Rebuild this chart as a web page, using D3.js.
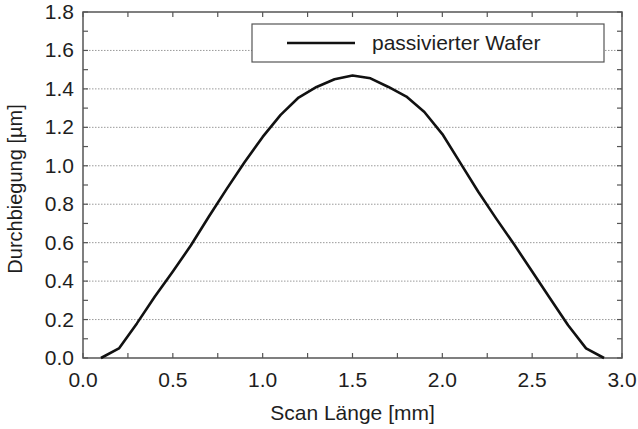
<!DOCTYPE html>
<html>
<head>
<meta charset="utf-8">
<script src="https://cdn.jsdelivr.net/npm/d3@7"></script>
<style>
  body { margin: 0; background: #fff; }
  text { font-family: "Liberation Sans", Arial, sans-serif; fill: #1e1e1e; }
</style>
</head>
<body>
<div id="chart"></div>
<script>
// scan position [mm] and deflection [µm]
const scanPos = [0.1, 0.2, 0.3, 0.4, 0.5, 0.6, 0.7, 0.8, 0.9, 1.0, 1.1, 1.2, 1.3, 1.4, 1.5,
                 1.6, 1.7, 1.8, 1.9, 2.0, 2.1, 2.2, 2.3, 2.4, 2.5, 2.6, 2.7, 2.8, 2.9];
const deflection = [0.0, 0.05, 0.18, 0.32, 0.45, 0.585, 0.735, 0.88, 1.02, 1.15, 1.265, 1.355, 1.41, 1.45, 1.47,
                    1.455, 1.41, 1.36, 1.28, 1.165, 1.015, 0.865, 0.725, 0.59, 0.45, 0.31, 0.17, 0.05, 0.0];
const xTicks = [0.0, 0.5, 1.0, 1.5, 2.0, 2.5, 3.0];
const yTicks = [0.0, 0.2, 0.4, 0.6, 0.8, 1.0, 1.2, 1.4, 1.6, 1.8];
const seriesName = "passivierter Wafer";

const width = 638, height = 429;
const margin = {top: 12, right: 16, bottom: 71, left: 83};
const w = width - margin.left - margin.right;
const h = height - margin.top - margin.bottom;

const svg = d3.select("#chart").append("svg")
    .attr("width", width)
    .attr("height", height);

const g = svg.append("g")
    .attr("transform", `translate(${margin.left}, ${margin.top})`);

const x = d3.scaleLinear().domain([0, 3]).range([0, w]);
const y = d3.scaleLinear().domain([0, 1.8]).range([h, 0]);

// dotted grid lines
g.selectAll(".grid")
  .data(yTicks.filter(d => d > 0 && d < 1.8))
  .enter()
  .append("line")
    .attr("x1", 0).attr("x2", w)
    .attr("y1", d => y(d)).attr("y2", d => y(d))
    .attr("stroke", "#9a9a9a")
    .attr("stroke-width", 1)
    .attr("stroke-dasharray", "1.5,1.5");

// minor + major ticks, pointing inwards on all four sides
const xMinor = d3.range(0, 3.001, 0.25);
const yMinor = d3.range(0, 1.801, 0.1);

const tickLen = 5;
const tickStyle = sel => sel.attr("stroke", "#555").attr("stroke-width", 1.2);

g.selectAll(".xtb").data(xMinor).enter().append("line")
    .attr("x1", d => x(d)).attr("x2", d => x(d))
    .attr("y1", h).attr("y2", h - tickLen).call(tickStyle);
g.selectAll(".xtt").data(xMinor).enter().append("line")
    .attr("x1", d => x(d)).attr("x2", d => x(d))
    .attr("y1", 0).attr("y2", tickLen).call(tickStyle);
g.selectAll(".ytl").data(yMinor).enter().append("line")
    .attr("x1", 0).attr("x2", tickLen)
    .attr("y1", d => y(d)).attr("y2", d => y(d)).call(tickStyle);
g.selectAll(".ytr").data(yMinor).enter().append("line")
    .attr("x1", w).attr("x2", w - tickLen)
    .attr("y1", d => y(d)).attr("y2", d => y(d)).call(tickStyle);

// frame
g.append("rect")
    .attr("width", w).attr("height", h)
    .attr("fill", "none")
    .attr("stroke", "#555")
    .attr("stroke-width", 1.5);

// tick labels
g.selectAll(".xl").data(xTicks).enter().append("text")
    .attr("x", d => x(d))
    .attr("y", h + 29)
    .attr("text-anchor", "middle")
    .style("font-size", "21px")
    .text(d => d.toFixed(1));

g.selectAll(".yl").data(yTicks).enter().append("text")
    .attr("x", -9)
    .attr("y", d => y(d) + 7)
    .attr("text-anchor", "end")
    .style("font-size", "21px")
    .text(d => d.toFixed(1));

// axis titles
g.append("text")
    .attr("x", w / 2)
    .attr("y", h + 62)
    .attr("text-anchor", "middle")
    .style("font-size", "21px")
    .text("Scan Länge [mm]");

g.append("text")
    .attr("transform", `translate(${-61}, ${h / 2 + 4}) rotate(-90)`)
    .attr("text-anchor", "middle")
    .style("font-size", "20px")
    .text("Durchbiegung [µm]");

// curve
const line = d3.line()
    .x((d, i) => x(scanPos[i]))
    .y(d => y(d));

g.append("path")
    .datum(deflection)
    .attr("d", line)
    .attr("fill", "none")
    .attr("stroke", "#111")
    .attr("stroke-width", 2.6)
    .attr("stroke-linejoin", "round");

// legend
const legend = g.append("g").attr("transform", `translate(${252 - margin.left}, ${24 - margin.top})`);
legend.append("rect")
    .attr("width", 352).attr("height", 38)
    .attr("fill", "#fff")
    .attr("stroke", "#555")
    .attr("stroke-width", 1.2);
legend.append("line")
    .attr("x1", 35).attr("x2", 103)
    .attr("y1", 19).attr("y2", 19)
    .attr("stroke", "#111")
    .attr("stroke-width", 2.6);
legend.append("text")
    .attr("x", 120)
    .attr("y", 26)
    .style("font-size", "21px")
    .text(seriesName);
</script>
</body>
</html>
